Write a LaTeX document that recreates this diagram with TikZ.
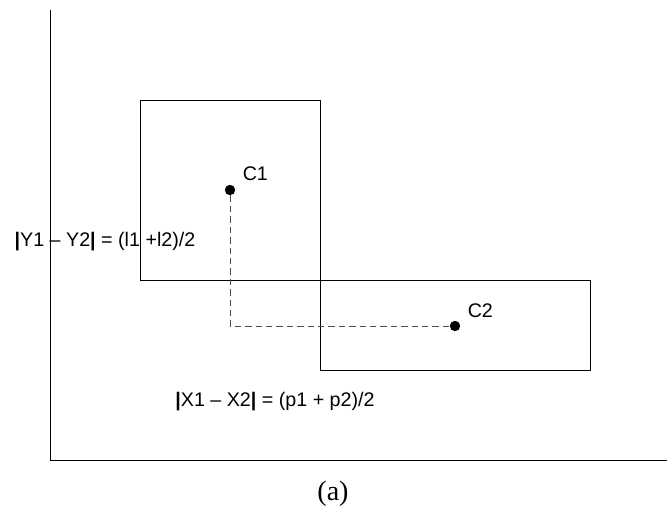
\documentclass[tikz,border=0pt]{standalone}
\usepackage{fontspec}
\setmainfont{Liberation Sans}
\newfontfamily\captionfont{Liberation Serif}
\usetikzlibrary{positioning}
\tikzset{
    frame/.style={draw=black, line width=0.7pt},
    axis/.style={draw=black, line width=0.7pt},
    centre/.style={circle, fill=black, inner sep=0pt, minimum size=0.26cm},
    gap/.style={draw=black!70, line width=0.6pt, dash pattern=on 0.16cm off 0.1cm},
    label/.style={font=\fontsize{14}{16}\selectfont, inner sep=1pt},
    formula/.style={font=\fontsize{14}{16}\selectfont, inner sep=1pt}
}

\begin{document}
\begin{tikzpicture}[x=0.025cm, y=-0.025cm]

    \useasboundingbox (0,0) rectangle (667,516);

    % axes
    \coordinate (top)    at (50,10);
    \coordinate (origin) at (50,460);
    \coordinate (right)  at (667,460);
    \draw[axis] (top) -- (origin) -- (right);

    % rectangles
    \draw[frame] (140,100) rectangle (320,280);
    \draw[frame] (320,280) rectangle (590,370);

    % centres
    \node[centre] (c1) at (230,190) {};
    \node[centre] (c2) at (455,326) {};
    \node[label, above right=0.1cm and 0.18cm of c1] (c1lbl) {C1};
    \node[label, above right=0.06cm and 0.18cm of c2] (c2lbl) {C2};

    \draw[gap] (c1) |- (c2);

    % relations
    \node[formula] (ydist) at (105,242) {\textbf{|}Y1 -- Y2\textbf{|} = (l1 +l2)/2};
    \node[formula] (xdist) at (275,402) {\textbf{|}X1 -- X2\textbf{|} = (p1 + p2)/2};

    \node[font=\captionfont\fontsize{20}{22}\selectfont] (cap) at (333,494) {(a)};

\end{tikzpicture}
\end{document}
